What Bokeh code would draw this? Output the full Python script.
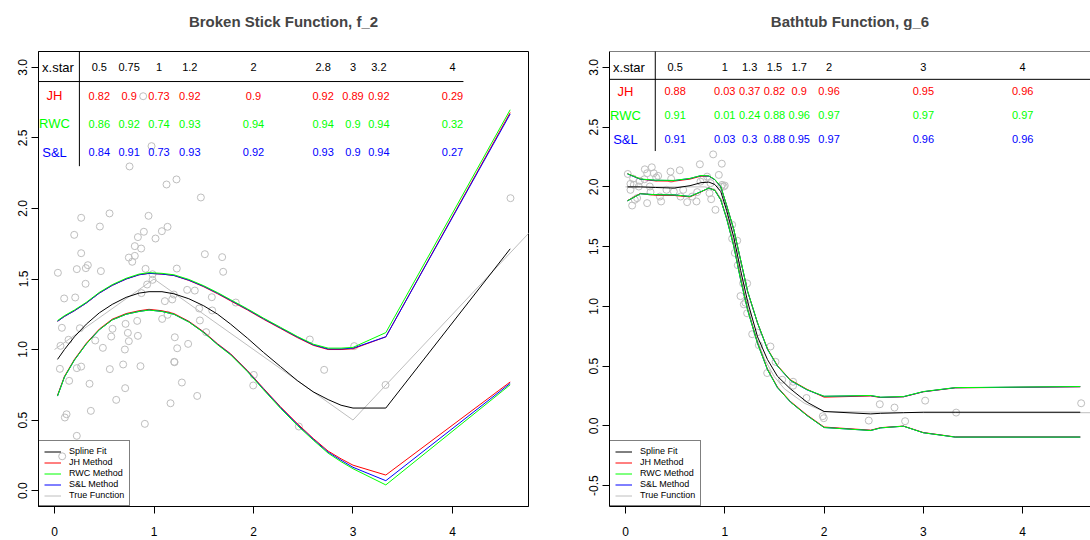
import math
from bokeh.plotting import figure
from bokeh.models import Range1d, FixedTicker, PrintfTickFormatter, Legend, LegendItem, Span, LinearAxis
from bokeh.layouts import row
from bokeh.embed import file_html
from bokeh.resources import INLINE
from bokeh.core.properties import value

FONT = "Liberation Sans"

# ---------------- Left panel data: Broken Stick Function, f_2 ----------------
left_pts_x = [0.754, 1.226, 1.126, 1.471, 0.553, 0.268, 0.945, 0.456, 1.136, 0.898, 1.079, 0.198,
              0.838, 1.015, 0.807, 0.871, 0.268, 1.511, 0.747, 0.807, 0.781, 1.685, 0.335, 0.315,
              0.224, 0.915, 1.229, 0.034, 0.466, 1.695, 0.985, 0.985, 0.312, 0.931, 0.208, 0.097,
              1.333, 1.410, 1.199, 0.874, 1.581, 1.183, 1.109, 1.822, 1.454, 1.585, 1.136, 1.082,
              1.461, 0.831, 0.714, 0.255, 0.074, 0.583, 0.737, 1.524, 0.570, 0.838, 0.747, 0.141,
              0.060, 0.409, 1.209, 1.343, 0.486, 0.707, 1.233, 2.566, 3.012, 1.203, 1.206, 0.690,
              0.864, 0.268, 0.224, 0.054, 0.556, 2.710, 2.003, 1.997, 3.327, 0.147, 0.352, 1.280,
              0.710, 1.434, 0.620, 1.166, 0.365, 0.121, 0.104, 0.908, 2.456, 0.224, 4.583, 0.891,
              0.975, 0.077]
left_pts_y = [2.298, 2.206, 2.170, 2.078, 1.965, 1.934, 1.948, 1.872, 1.870, 1.835, 1.839, 1.813,
              1.797, 1.787, 1.733, 1.716, 1.683, 1.676, 1.652, 1.664, 1.622, 1.655, 1.598, 1.577,
              1.570, 1.572, 1.574, 1.544, 1.556, 1.551, 1.534, 1.494, 1.466, 1.461, 1.369, 1.362,
              1.423, 1.418, 1.390, 1.400, 1.371, 1.355, 1.343, 1.333, 1.291, 1.277, 1.246, 1.217,
              1.206, 1.203, 1.182, 1.151, 1.154, 1.147, 1.118, 1.123, 1.092, 1.097, 1.059, 1.069,
              1.026, 1.064, 1.087, 1.040, 1.012, 1.000, 1.009, 1.071, 1.024, 0.913, 0.910, 0.894,
              0.882, 0.879, 0.868, 0.863, 0.861, 0.856, 0.820, 0.745, 0.749, 0.778, 0.757, 0.766,
              0.726, 0.671, 0.643, 0.619, 0.565, 0.541, 0.518, 0.473, 0.454, 0.388, 2.073, 2.796,
              2.442, 0.243]

left_grid = [0.03, 0.1, 0.2, 0.32, 0.45, 0.58, 0.72, 0.85, 0.95, 1.08, 1.2, 1.35, 1.5, 1.64, 1.77,
             1.94, 2.1, 2.27, 2.44, 2.6, 2.75, 2.88, 3.0, 3.33, 4.58]
left_spline = [0.93, 1.0, 1.09, 1.18, 1.26, 1.32, 1.37, 1.40, 1.41, 1.41, 1.395, 1.36, 1.31, 1.25, 1.18,
               1.08, 0.98, 0.88, 0.78, 0.70, 0.645, 0.605, 0.585, 0.585, 1.714]
left_jh_up = [1.20, 1.235, 1.275, 1.33, 1.40, 1.455, 1.50, 1.53, 1.54, 1.535, 1.525, 1.49, 1.445, 1.395,
              1.345, 1.28, 1.215, 1.15, 1.085, 1.03, 1.0, 1.0, 1.005, 1.09, 2.68]
left_rwc_up = [1.205, 1.24, 1.28, 1.335, 1.405, 1.46, 1.505, 1.535, 1.545, 1.54, 1.53, 1.497, 1.452,
               1.403, 1.353, 1.288, 1.223, 1.158, 1.093, 1.038, 1.01, 1.01, 1.015, 1.12, 2.70]
left_sl_up = [1.20, 1.235, 1.275, 1.33, 1.40, 1.455, 1.50, 1.53, 1.54, 1.535, 1.525, 1.492, 1.448,
              1.399, 1.349, 1.284, 1.219, 1.154, 1.089, 1.034, 1.004, 1.004, 1.01, 1.09, 2.67]
left_jh_lo = [0.675, 0.81, 0.93, 1.045, 1.145, 1.215, 1.255, 1.275, 1.285, 1.275, 1.255, 1.20, 1.125,
              1.04, 0.97, 0.85, 0.725, 0.595, 0.475, 0.37, 0.28, 0.225, 0.18, 0.11, 0.77]
left_rwc_lo = [0.67, 0.805, 0.925, 1.04, 1.14, 1.21, 1.25, 1.27, 1.28, 1.27, 1.25, 1.195, 1.12,
               1.033, 0.962, 0.842, 0.715, 0.584, 0.462, 0.358, 0.265, 0.205, 0.155, 0.04, 0.75]
left_sl_lo = [0.67, 0.805, 0.925, 1.04, 1.14, 1.21, 1.25, 1.27, 1.28, 1.27, 1.25, 1.196, 1.121,
              1.036, 0.966, 0.846, 0.72, 0.59, 0.468, 0.364, 0.272, 0.215, 0.165, 0.07, 0.76]
left_true_x = [0.0, 1.0, 3.0, 5.0]
left_true_y = [1.0, 1.5, 0.5, 2.0]

left_xstar = [0.5, 0.75, 1, 1.2, 2, 2.8, 3, 3.2, 4]
left_JH = [0.82, 0.9, 0.73, 0.92, 0.9, 0.92, 0.89, 0.92, 0.29]
left_RWC = [0.86, 0.92, 0.74, 0.93, 0.94, 0.94, 0.9, 0.94, 0.32]
left_SL = [0.84, 0.91, 0.73, 0.93, 0.92, 0.93, 0.9, 0.94, 0.27]

# ---------------- Right panel data: Bathtub Function, g_6 ----------------
right_pts_x = [0.023, 0.077, 0.05, 0.195, 0.265, 0.218, 0.285, 0.329, 0.309, 0.191, 0.144, 0.084,
               0.134, 0.245, 0.05, 0.252, 0.117, 0.094, 0.067, 0.218, 0.346, 0.359, 0.453, 0.547,
               0.46, 0.413, 0.487, 0.554, 0.581, 0.621, 0.715, 0.671, 0.722, 0.749, 0.822, 0.755,
               0.782, 0.846, 0.863, 0.883, 0.97, 0.94, 0.906, 0.973, 1.0, 0.856, 0.963, 0.99,
               1.074, 1.074, 1.125, 1.101, 1.131, 1.185, 1.225, 1.158, 1.192, 1.208, 1.225, 1.276,
               1.326, 1.343, 1.46, 1.427, 1.511, 1.578, 1.688, 1.688, 1.823, 1.987, 1.997, 2.45,
               2.561, 2.709, 2.816, 3.018, 3.33, 4.589]
right_pts_y = [2.108, 2.069, 2.025, 2.147, 2.164, 2.114, 2.114, 2.092, 2.078, 2.064, 2.05, 2.017,
               2.003, 2.003, 1.975, 1.956, 1.906, 1.892, 1.844, 1.864, 1.919, 1.878, 2.128, 2.139,
               2.067, 1.975, 1.961, 1.919, 1.975, 1.872, 1.878, 1.919, 1.956, 2.189, 2.086, 2.044,
               2.064, 1.947, 1.897, 2.272, 2.194, 2.1, 1.808, 2.017, 2.011, 2.031, 2.003, 2.003,
               1.683, 1.567, 1.55, 1.447, 1.344, 1.192, 1.192, 1.086, 1.017, 1.031, 0.942, 0.767,
               0.781, 0.675, 0.664, 0.442, 0.536, 0.386, 0.369, 0.336, 0.233, 0.081, 0.064, 0.044,
               0.181, 0.153, 0.039, 0.211, 0.111, 0.189]

right_grid = [0.02, 0.15, 0.3, 0.49, 0.65, 0.76, 0.84, 0.9, 0.96, 1.02, 1.09, 1.16, 1.23, 1.33,
              1.43, 1.53, 1.66, 1.83, 2.0, 2.47, 2.57, 2.8, 3.0, 3.32, 4.58]
right_spline = [2.0, 2.0, 1.995, 1.99, 2.01, 2.035, 2.04, 2.02, 1.96, 1.80, 1.58, 1.30, 1.04, 0.745,
                0.555, 0.415, 0.31, 0.197, 0.12, 0.10, 0.105, 0.11, 0.114, 0.114, 0.114]
right_jh_up = [2.11, 2.065, 2.05, 2.048, 2.065, 2.09, 2.09, 2.06, 2.0, 1.84, 1.645, 1.385, 1.125, 0.86,
               0.645, 0.505, 0.385, 0.305, 0.24, 0.25, 0.237, 0.243, 0.285, 0.318, 0.327]
right_rwc_up = [2.11, 2.066, 2.056, 2.054, 2.071, 2.095, 2.092, 2.062, 2.002, 1.842, 1.647, 1.387, 1.127, 0.862,
                0.642, 0.502, 0.382, 0.302, 0.248, 0.254, 0.24, 0.245, 0.287, 0.32, 0.329]
right_sl_up = [2.108, 2.064, 2.055, 2.053, 2.07, 2.094, 2.09, 2.06, 2.0, 1.84, 1.645, 1.385, 1.125, 0.86,
               0.64, 0.5, 0.38, 0.3, 0.247, 0.253, 0.239, 0.244, 0.286, 0.319, 0.328]
right_jh_lo = [1.885, 1.945, 1.93, 1.928, 1.916, 1.958, 1.99, 1.972, 1.892, 1.735, 1.51, 1.23, 0.975, 0.695,
               0.475, 0.325, 0.205, 0.09, -0.01, -0.036, -0.015, -0.002, -0.056, -0.093, -0.093]
right_rwc_lo = [1.883, 1.942, 1.935, 1.933, 1.92, 1.96, 1.99, 1.97, 1.89, 1.73, 1.505, 1.22, 0.97, 0.69,
                0.47, 0.32, 0.2, 0.085, -0.014, -0.039, -0.017, -0.003, -0.058, -0.094, -0.094]
right_sl_lo = [1.883, 1.942, 1.935, 1.933, 1.92, 1.96, 1.99, 1.97, 1.89, 1.73, 1.505, 1.22, 0.97, 0.69,
               0.47, 0.32, 0.2, 0.085, -0.014, -0.039, -0.017, -0.003, -0.058, -0.094, -0.094]
right_true_x = [0.0, 0.8, 0.9, 1.0, 1.1, 1.2, 1.3, 1.4, 1.5, 1.6, 1.8, 2.0, 3.0, 5.0]
right_true_y = [2.0, 2.0, 1.98, 1.85, 1.5, 1.1, 0.78, 0.56, 0.41, 0.31, 0.19, 0.12, 0.11, 0.11]

right_xstar = [0.5, 1, 1.3, 1.5, 1.7, 2, 3, 4]
right_JH = [0.88, 0.03, 0.37, 0.82, 0.9, 0.96, 0.95, 0.96]
right_RWC = [0.91, 0.01, 0.24, 0.88, 0.96, 0.97, 0.97, 0.97]
right_SL = [0.91, 0.03, 0.3, 0.88, 0.95, 0.97, 0.96, 0.96]

# layout-only: where table columns are drawn (data x)
left_col_pos = [0.45, 0.75, 1.05, 1.36, 2.0, 2.7, 3.0, 3.26, 4.0]
right_col_pos = [0.5, 1.0, 1.25, 1.5, 1.75, 2.05, 3.0, 4.0]

RED, GREEN, BLUE, GREY = "#FF0000", "#00FF00", "#0000FF", "#BEBEBE"


def style_axis(ax, ticks, fmt, vertical=False):
    ax.ticker = FixedTicker(ticks=ticks)
    ax.formatter = PrintfTickFormatter(format=fmt)
    ax.axis_line_color = "black"
    ax.major_tick_line_color = "black"
    ax.minor_tick_line_color = None
    ax.major_tick_out = 7
    ax.major_tick_in = 0
    ax.major_label_text_font = FONT
    ax.major_label_text_font_size = "12px"
    ax.major_label_text_color = "black"
    if vertical:
        ax.major_label_orientation = "vertical"
        ax.major_label_standoff = 4
    else:
        ax.major_label_standoff = 13


def make_panel(title, width, xr, yr, mbl, mbr, pts_x, pts_y, grid, spline, ups, los, true_x, true_y,
               xstar, rows, col_pos, vline_x, hline_x, yticks, outline):
    p = figure(width=width, height=540, x_range=Range1d(*xr), y_range=Range1d(*yr),
               output_backend="svg", toolbar_location=None,
               min_border_left=mbl, min_border_right=mbr, min_border_top=51, min_border_bottom=34)
    p.xgrid.visible = False
    p.ygrid.visible = False
    p.background_fill_color = "white"
    p.border_fill_color = "white"
    p.outline_line_color = "black" if outline else None
    p.outline_line_width = 1
    if not outline:
        p.add_layout(Span(location=yr[1], dimension="width", line_color="black", line_width=1))
    # invisible spacer axis between the frame and the title: one hidden tick, empty label
    spacer = LinearAxis(ticker=FixedTicker(ticks=[2.0]), formatter=PrintfTickFormatter(format=""),
                        axis_line_color=None, major_tick_line_color=None, minor_tick_line_color=None,
                        major_tick_out=13, major_tick_in=0, major_label_standoff=0,
                        major_label_text_font_size="1px")
    p.add_layout(spacer, "above")
    p.title.text = title
    p.title.text_font = FONT
    p.title.text_font_size = "15px"
    p.title.text_font_style = "bold"
    p.title.align = "center"
    p.title.vertical_align = "bottom"
    p.title.standoff = 18

    style_axis(p.below[0], [0, 1, 2, 3, 4], "%d")
    style_axis(p.left[0], yticks, "%.1f", vertical=True)

    p.scatter(pts_x, pts_y, marker="circle", size=7, fill_color=None, line_color=GREY, line_width=1)

    r_true = p.line(true_x, true_y, line_color=GREY, line_width=1)
    r_spline = p.line(grid, spline, line_color="black", line_width=1)
    rends = []
    for col, up, lo in zip([RED, BLUE, GREEN], ups, los):
        r = p.line(grid, up, line_color=col, line_width=1)
        p.line(grid, lo, line_color=col, line_width=1)
        rends.append(r)
    r_jh, r_sl, r_rwc = rends

    # table
    p.segment(x0=[vline_x], y0=[2.3], x1=[vline_x], y1=[3.5], line_color="black", line_width=1)
    p.segment(x0=[-1.0], y0=[2.9], x1=[hline_x], y1=[2.9], line_color="black", line_width=1)
    p.text(x=[0.035], y=[3.0], text=["x.star"], text_color="black", text_font=value(FONT),
           text_font_size="13px", text_align="center", text_baseline="middle")
    p.text(x=col_pos, y=[3.0] * len(col_pos), text=[f"{v:g}" for v in xstar], text_color="black",
           text_font=value(FONT), text_font_size="11px", text_align="center", text_baseline="middle")
    for (name, vals, col), yy in zip(rows, [2.8, 2.6, 2.4]):
        p.text(x=[0.0], y=[yy], text=[name], text_color=col, text_font=value(FONT),
               text_font_size="13px", text_align="center", text_baseline="middle")
        p.text(x=col_pos, y=[yy] * len(col_pos), text=[str(v) for v in vals], text_color=col,
               text_font=value(FONT), text_font_size="11px", text_align="center", text_baseline="middle")

    legend = Legend(items=[LegendItem(label="Spline Fit", renderers=[r_spline]),
                           LegendItem(label="JH Method", renderers=[r_jh]),
                           LegendItem(label="RWC Method", renderers=[r_rwc]),
                           LegendItem(label="S&L Method", renderers=[r_sl]),
                           LegendItem(label="True Function", renderers=[r_true])],
                    location="bottom_left")
    legend.margin = 0
    legend.padding = 5
    legend.spacing = 1
    legend.glyph_width = 17
    legend.glyph_height = 9
    legend.label_height = 9
    legend.label_standoff = 8
    legend.label_text_font = FONT
    legend.label_text_font_size = "9px"
    legend.label_text_color = "black"
    legend.border_line_color = "black"
    legend.border_line_width = 1
    legend.background_fill_alpha = 0
    p.add_layout(legend)
    return p


p1 = make_panel("Broken Stick Function, f_2", 568, (-0.161, 4.764), (-0.113, 3.113), 38, 40,
                left_pts_x, left_pts_y, left_grid, left_spline,
                [left_jh_up, left_sl_up, left_rwc_up], [left_jh_lo, left_sl_lo, left_rwc_lo],
                left_true_x, left_true_y, left_xstar,
                [("JH", left_JH, RED), ("RWC", left_RWC, GREEN), ("S&L", left_SL, BLUE)],
                left_col_pos, 0.25, 4.11, [0, 0.5, 1.0, 1.5, 2.0, 2.5, 3.0], True)

p2 = make_panel("Bathtub Function, g_6", 522, (-0.161, 4.683), (-0.675, 3.133), 41, 0,
                right_pts_x, right_pts_y, right_grid, right_spline,
                [right_jh_up, right_sl_up, right_rwc_up], [right_jh_lo, right_sl_lo, right_rwc_lo],
                right_true_x, right_true_y, right_xstar,
                [("JH", right_JH, RED), ("RWC", right_RWC, GREEN), ("S&L", right_SL, BLUE)],
                right_col_pos, 0.30, 6.0, [-0.5, 0, 0.5, 1.0, 1.5, 2.0, 2.5, 3.0], False)

layout = row(p1, p2)
open("out.html", "w").write(file_html(layout, INLINE))
